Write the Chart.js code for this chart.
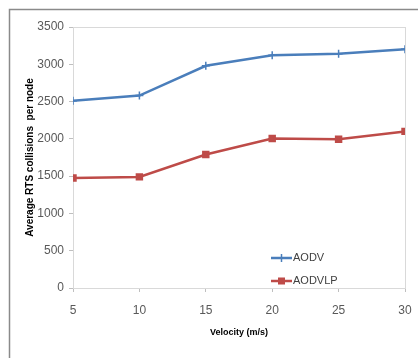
<!DOCTYPE html>
<html lang="en">
<head>
<meta charset="UTF-8">
<title>RTS collisions</title>
<script src="https://cdn.jsdelivr.net/npm/chart.js"></script>
<style>
  html, body { margin: 0; background: #fff; overflow: hidden; }
  canvas { display: block; }
</style>
</head>
<body>
<canvas id="grafico" width="418" height="358"></canvas>
<script>
const velocidades = [5, 10, 15, 20, 25, 30];
const aodv = [2510, 2580, 2980, 3120, 3140, 3200];
const aodvlp = [1475, 1490, 1790, 2005, 1995, 2100];
const nomes = ['AODV', 'AODVLP'];

const fonteTick = { family: '"Liberation Sans Narrow", "Liberation Sans", Arial', size: 12 };

// moldura externa + borda clara em volta da area do grafico
const bordaArea = {
  id: 'bordaArea',
  beforeDatasetsDraw(chart) {
    const a = chart.chartArea, c = chart.ctx;
    c.save();
    c.strokeStyle = '#8a8a8a';
    c.lineWidth = 1.5;
    c.beginPath();
    c.moveTo(9.5, chart.height); c.lineTo(9.5, 9.5); c.lineTo(chart.width, 9.5);
    c.stroke();
    c.strokeStyle = '#d9d9d9';
    c.lineWidth = 1;
    c.strokeRect(a.left + 0.5, a.top + 0.5, a.right - a.left, a.bottom - a.top);
    c.restore();
  }
};

// legenda dentro da area
const legendaDentro = {
  id: 'legendaDentro',
  afterDraw(chart) {
    const a = chart.chartArea, c = chart.ctx;
    const linhas = [a.bottom - 30, a.bottom - 7];
    c.save();
    chart.data.datasets.forEach((ds, i) => {
      const y = linhas[i];
      const x0 = a.right - 134, x1 = a.right - 113;
      c.strokeStyle = ds.borderColor;
      c.lineWidth = 2.5;
      c.beginPath(); c.moveTo(x0, y); c.lineTo(x1, y); c.stroke();
      c.fillStyle = ds.borderColor;
      if (ds.pointStyle === 'rect') {
        c.fillRect((x0 + x1) / 2 - 3.5, y - 3.5, 7, 7);
      } else {
        c.lineWidth = 1.5;
        c.beginPath();
        c.moveTo((x0 + x1) / 2, y - 4); c.lineTo((x0 + x1) / 2, y + 4);
        c.stroke();
      }
      c.fillStyle = '#404040';
      c.font = '11px "Liberation Sans Narrow", "Liberation Sans", Arial';
      c.textBaseline = 'middle';
      c.fillText(ds.label, x1 + 1, y);
    });
    c.restore();
  }
};

new Chart(document.getElementById('grafico'), {
  type: 'line',
  data: {
    labels: velocidades,
    datasets: [{
      label: nomes[0],
      data: velocidades.map((v, i) => ({ x: v, y: aodv[i] })),
      borderColor: '#4a7ebb',
      backgroundColor: '#4a7ebb',
      borderWidth: 2.5,
      pointStyle: 'cross',
      pointRadius: 4,
      pointBorderWidth: 1.5,
      tension: 0
    }, {
      label: nomes[1],
      data: velocidades.map((v, i) => ({ x: v, y: aodvlp[i] })),
      borderColor: '#be4b48',
      backgroundColor: '#be4b48',
      borderWidth: 2.5,
      pointStyle: 'rect',
      pointRadius: 3.5,
      tension: 0
    }]
  },
  options: {
    responsive: false,
    animation: false,
    layout: { padding: { top: 27, right: 13, left: 0, bottom: 0 } },
    plugins: { legend: { display: false }, tooltip: { enabled: false } },
    scales: {
      x: {
        type: 'linear',
        min: 5, max: 30,
        ticks: { stepSize: 5, color: '#595959', font: fonteTick, padding: 11, maxRotation: 0,
                 callback: v => String(v) },
        grid: { drawOnChartArea: false, tickLength: 4, color: '#bfbfbf' },
        border: { color: '#bfbfbf' },
        title: { display: true, text: 'Velocity (m/s)', color: '#000',
                 font: { family: '"Liberation Sans", Arial', size: 9, weight: 'bold' },
                 padding: { top: 0, bottom: 20 } },
        afterFit(s) { s.height = 70; s.paddingRight = 0; s.paddingLeft = 0; }
      },
      y: {
        min: 0, max: 3500,
        ticks: { stepSize: 500, color: '#595959', font: fonteTick, padding: 5,
                 callback: v => String(v) },
        grid: { drawOnChartArea: false, tickLength: 4, color: '#bfbfbf' },
        border: { color: '#bfbfbf' },
        title: { display: true, text: 'Average RTS collisions  per node', color: '#000',
                 font: { family: '"Liberation Sans", Arial', size: 10, weight: 'bold' },
                 padding: { top: 24, bottom: 0 } },
        afterFit(s) { s.width = 73; s.paddingTop = 0; s.paddingBottom = 0; }
      }
    }
  },
  plugins: [bordaArea, legendaDentro]
});
</script>
</body>
</html>
